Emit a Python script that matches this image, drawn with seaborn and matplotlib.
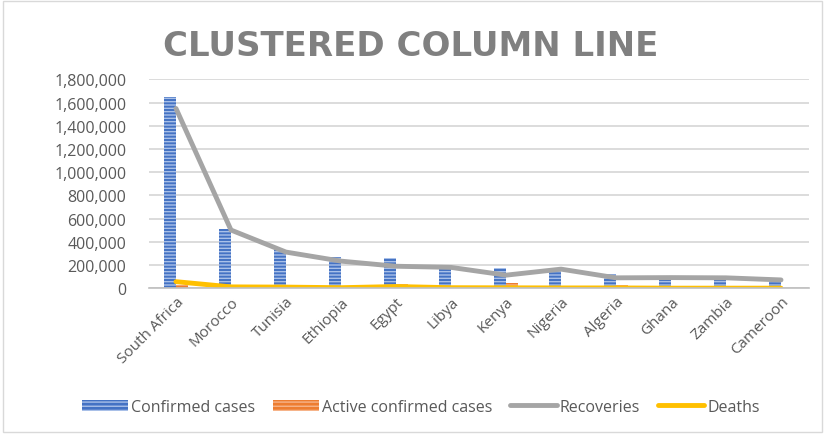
import numpy as np
import pandas as pd
import seaborn as sns
import matplotlib.pyplot as plt
from matplotlib.patches import Patch
from matplotlib.lines import Line2D

countries = ["South Africa", "Morocco", "Tunisia", "Ethiopia", "Egypt", "Libya",
             "Kenya", "Nigeria", "Algeria", "Ghana", "Zambia", "Cameroon"]
confirmed = [1645000, 511000, 329000, 268000, 260000, 165000,
             173000, 150000, 125000, 80000, 75000, 72000]
active = [30000, 5000, 8000, 12000, 40000, 5000,
          45000, 4000, 30000, 3000, 3000, 3000]
recoveries = [1550000, 502000, 312000, 234000, 190000, 180000,
              113000, 165000, 90000, 92000, 90000, 72000]
deaths = [57000, 12000, 10000, 5000, 15000, 5000,
          4000, 3000, 3000, 1000, 1000, 1000]

blue = "#4472C4"
orange = "#ED7D31"
gray = "#A5A5A5"
gold = "#FFC000"
text_gray = "#595959"

sns.set_style("white")
plt.rcParams["font.family"] = ["Open Sans", "DejaVu Sans"]
plt.rcParams["hatch.linewidth"] = 1.0

df = pd.DataFrame({"country": countries * 2,
                   "value": confirmed + active,
                   "series": ["Confirmed cases"] * len(countries) + ["Active confirmed cases"] * len(countries)})

fig = plt.figure(figsize=(8.25, 4.35), dpi=100)
ax = fig.add_axes([0.18, 0.335, 0.80, 0.48])

sns.barplot(data=df, x="country", y="value", hue="series", palette=[blue, orange],
            width=0.44, gap=0, ax=ax, legend=False, saturation=1)
for bar in ax.patches:
    light = "#A9C0E8" if bar.get_facecolor()[2] > 0.5 else "#F6B48A"
    bar.set_hatch("-----")
    bar.set_edgecolor(light)
    bar.set_linewidth(0)

x = np.arange(len(countries))
sns.lineplot(x=x, y=recoveries, color=gray, linewidth=3.5, ax=ax)
sns.lineplot(x=x, y=deaths, color=gold, linewidth=3.5, ax=ax)

ax.set_ylim(0, 1800000)
ax.set_xlim(-0.5, len(countries) - 0.5)
ax.set_yticks(np.arange(0, 1800001, 200000))
ax.yaxis.set_major_formatter(plt.FuncFormatter(lambda v, p: f"{int(v):,}"))
ax.grid(axis="y", color="#D9D9D9", linewidth=1.3)
ax.set_axisbelow(True)
for s in ["top", "right", "left"]:
    ax.spines[s].set_visible(False)
ax.spines["bottom"].set_color("#BFBFBF")
ax.spines["bottom"].set_linewidth(1.2)
ax.set_xlabel("")
ax.set_ylabel("")
ax.tick_params(axis="y", labelsize=11.5, colors=text_gray, length=0, pad=16)
ax.tick_params(axis="x", labelsize=11, colors=text_gray, length=0, pad=4)
plt.setp(ax.get_xticklabels(), rotation=45, ha="right", rotation_mode="anchor")

fig.text(0.498, 0.893, "CLUSTERED COLUMN LINE", ha="center", va="center",
         fontsize=24.5, fontweight="bold", color="#808080", family="DejaVu Sans")

handles = [Patch(facecolor=blue, edgecolor="#A9C0E8", hatch="----", linewidth=0),
           Patch(facecolor=orange, edgecolor="#F6B48A", hatch="----", linewidth=0),
           Line2D([0], [0], color=gray, linewidth=3.5),
           Line2D([0], [0], color=gold, linewidth=3.5)]
labels = ["Confirmed cases", "Active confirmed cases", "Recoveries", "Deaths"]
leg = fig.legend(handles, labels, loc="center", bbox_to_anchor=(0.51, 0.062), ncol=4,
                 frameon=False, fontsize=11.5, handlelength=2.9, handletextpad=0.2,
                 columnspacing=1.1)
for t in leg.get_texts():
    t.set_color(text_gray)

fig.add_artist(plt.Rectangle((0.004, 0.005), 0.992, 0.99, transform=fig.transFigure,
                             fill=False, edgecolor="#D9D9D9", linewidth=1))

fig.savefig("out.png", dpi=100)
